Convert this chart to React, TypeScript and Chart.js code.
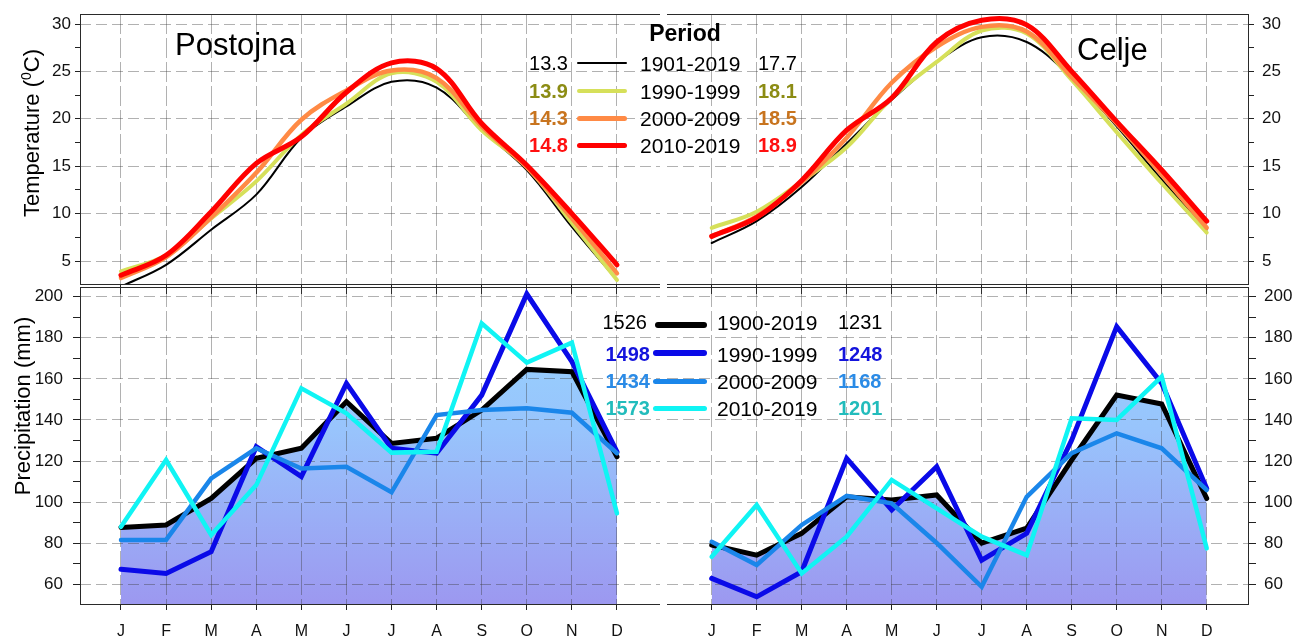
import React, { useEffect, useRef } from 'react';
import { Chart, registerables } from 'chart.js';

Chart.register(...registerables);

const FONT = '"Liberation Sans", Arial, Helvetica, sans-serif';
Chart.defaults.font.family = FONT;

// ---------------- data ----------------
const MONTHS = ['J', 'F', 'M', 'A', 'M', 'J', 'J', 'A', 'S', 'O', 'N', 'D'];

const TEMP_PERIODS = ['1901-2019', '1990-1999', '2000-2009', '2010-2019'];
const PRECIP_PERIODS = ['1900-2019', '1990-1999', '2000-2009', '2010-2019'];

const POSTOJNA_TEMP_1901_2019 = [2.3, 4.6, 8.3, 12.0, 18.0, 21.3, 23.9, 23.3, 18.8, 14.6, 8.6, 3.0];
const POSTOJNA_TEMP_1990_1999 = [3.9, 5.6, 9.5, 13.4, 18.3, 21.6, 24.8, 23.9, 18.8, 14.9, 9.0, 3.0];
const POSTOJNA_TEMP_2000_2009 = [3.2, 5.4, 9.6, 14.3, 19.9, 23.0, 25.1, 24.3, 19.2, 14.9, 9.5, 3.7];
const POSTOJNA_TEMP_2010_2019 = [3.5, 5.6, 10.2, 15.3, 18.1, 22.8, 25.9, 25.3, 19.5, 15.1, 10.0, 4.6];

const CELJE_TEMP_1901_2019 = [6.9, 9.2, 12.8, 17.4, 22.0, 26.0, 28.6, 28.1, 24.3, 19.2, 13.6, 8.3];
const CELJE_TEMP_1990_1999 = [8.5, 10.2, 13.4, 17.0, 22.2, 26.0, 29.3, 29.0, 24.1, 18.6, 13.2, 8.0];
const CELJE_TEMP_2000_2009 = [7.6, 9.7, 13.3, 18.0, 23.8, 27.6, 29.7, 29.2, 24.4, 19.5, 14.1, 8.5];
const CELJE_TEMP_2010_2019 = [7.6, 9.6, 13.5, 18.8, 22.2, 28.1, 30.4, 29.9, 25.0, 19.7, 14.6, 9.2];

const POSTOJNA_PREC_1900_2019 = [87.7, 88.9, 101.8, 121.3, 126.2, 148.9, 128.6, 131.1, 144.8, 164.6, 163.5, 122.1];
const POSTOJNA_PREC_1990_1999 = [67.3, 65.3, 75.9, 127.0, 112.4, 157.8, 126.2, 123.8, 152.1, 201.3, 168.4, 124.5];
const POSTOJNA_PREC_2000_2009 = [81.6, 81.6, 111.6, 126.2, 116.4, 117.2, 104.8, 142.4, 144.8, 145.7, 143.5, 123.8];
const POSTOJNA_PREC_2010_2019 = [88.0, 120.5, 84.0, 108.3, 155.4, 143.2, 124.1, 124.5, 187.0, 167.9, 177.6, 94.5];

const CELJE_PREC_1900_2019 = [79.1, 74.2, 84.8, 102.6, 101.0, 103.5, 80.0, 87.3, 120.5, 152.1, 147.8, 101.8];
const CELJE_PREC_1990_1999 = [62.9, 53.9, 66.1, 121.3, 96.2, 117.2, 71.7, 84.8, 130.2, 185.4, 157.8, 106.7];
const CELJE_PREC_2000_2009 = [80.7, 69.4, 88.9, 103.0, 99.4, 80.1, 58.8, 102.6, 123.8, 133.5, 126.2, 105.9];
const CELJE_PREC_2010_2019 = [73.4, 98.6, 65.3, 83.2, 110.8, 97.0, 83.2, 74.2, 140.8, 140.0, 161.1, 77.5];

const POSTOJNA_TEMP_MEAN = ['13.3', '13.9', '14.3', '14.8'];
const CELJE_TEMP_MEAN = ['17.7', '18.1', '18.5', '18.9'];
const POSTOJNA_PREC_SUM = ['1526', '1498', '1434', '1573'];
const CELJE_PREC_SUM = ['1231', '1248', '1168', '1201'];

const TEMP_MAJOR_TICKS = [5, 10, 15, 20, 25, 30];
const TEMP_MINOR_TICKS = [7.5, 12.5, 17.5, 22.5, 27.5];
const PREC_MAJOR_TICKS = [60, 80, 100, 120, 140, 160, 180, 200];
const PREC_MINOR_TICKS = [70, 90, 110, 130, 150, 170, 190];

// ---------------- styles ----------------
const TEMP_COLORS = ['#000000', '#d6e05a', '#ff8a45', '#ff0000'];
const TEMP_TEXT_COLORS = ['#000000', '#8c8c14', '#c8741e', '#ff1010'];
const TEMP_WIDTHS = [2, 4, 4.5, 5];
const PREC_COLORS = ['#000000', '#0a0ae8', '#1a86ea', '#10f4f4'];
const PREC_TEXT_COLORS = ['#000000', '#1414dc', '#2b8be6', '#22bcbc'];
const PREC_WIDTHS = [5, 5, 4.5, 4.5];

const GRID_COLOR = 'rgba(60,60,60,0.40)';
const TICK_COLOR = '#222222';
const FRAME_COLOR = '#2a2a2a';

type Panel = {
  side: 'left' | 'right';
  series: number[][];
  colors: string[];
  widths: number[];
  tension: number;
  fillFirst: boolean;
  xMin: number;
  xMax: number;
  yMin: number;
  yMax: number;
  majors: number[];
  minors: number[];
  showMonths: boolean;
  padTop: number;
  xAxisH: number;
  yAxisW: number;
  yTickLen: number;
  yTickPad: number;
  xTickLen: number;
  xTickPad: number;
};

const gradientFill = (c: any) => {
  const chart = c.chart;
  const area = chart.chartArea;
  if (!area) return 'rgb(150,190,250)';
  const g = chart.ctx.createLinearGradient(0, area.top, 0, area.bottom);
  g.addColorStop(0, 'rgb(150,214,255)');
  g.addColorStop(0.45, 'rgb(152,196,252)');
  g.addColorStop(1, 'rgb(156,152,240)');
  return g;
};

function buildChart(canvas: HTMLCanvasElement, p: Panel) {
  const framePlugin = {
    id: 'frame',
    afterDraw(chart: any) {
      const { ctx, chartArea } = chart;
      const { left, right, top, bottom } = chartArea;
      ctx.save();
      ctx.strokeStyle = FRAME_COLOR;
      ctx.lineWidth = 1;
      ctx.setLineDash([]);
      ctx.beginPath();
      ctx.moveTo(left, top + 0.5);
      ctx.lineTo(right, top + 0.5);
      ctx.moveTo(left, bottom + 0.5);
      ctx.lineTo(right, bottom + 0.5);
      const vx = p.side === 'left' ? left + 0.5 : right - 0.5;
      ctx.moveTo(vx, top);
      ctx.lineTo(vx, bottom + 1);
      ctx.stroke();
      ctx.restore();
    },
  };

  const datasets = p.series.map((vals, i) => ({
    data: vals.map((v, j) => ({ x: j + 1, y: v })),
    borderColor: p.colors[i],
    borderWidth: p.widths[i],
    pointRadius: 0,
    pointHoverRadius: 0,
    tension: p.tension,
    fill: p.fillFirst && i === 0 ? 'start' : false,
    backgroundColor: p.fillFirst && i === 0 ? gradientFill : 'rgba(0,0,0,0)',
    order: p.series.length - i,
    borderCapStyle: 'round',
    borderJoinStyle: p.tension > 0 ? 'round' : 'miter',
  }));

  const ticksAll = [...p.majors, ...p.minors].sort((a, b) => a - b);

  return new Chart(canvas, {
    type: 'line',
    data: { datasets: datasets as any },
    plugins: [framePlugin],
    options: {
      responsive: false,
      animation: false,
      events: [],
      layout: { padding: { top: p.padTop, left: 0, right: 0, bottom: 0 } },
      plugins: {
        legend: { display: false },
        tooltip: { enabled: false },
        filler: { drawTime: 'beforeDraw' },
      } as any,
      scales: {
        x: {
          type: 'linear',
          position: 'bottom',
          min: p.xMin,
          max: p.xMax,
          bounds: 'data',
          afterBuildTicks: (s: any) => {
            s.ticks = MONTHS.map((_, i) => ({ value: i + 1 }));
          },
          afterFit: (s: any) => {
            s.height = p.xAxisH;
            s.paddingLeft = 0;
            s.paddingRight = 0;
          },
          ticks: {
            display: p.showMonths,
            autoSkip: false,
            maxRotation: 0,
            minRotation: 0,
            padding: p.xTickPad,
            color: '#111111',
            font: { size: 16, family: FONT },
            callback: (_v: any, i: number) => MONTHS[i],
          },
          grid: {
            color: GRID_COLOR,
            tickColor: TICK_COLOR,
            tickLength: p.xTickLen,
            lineWidth: 1,
          },
          border: { display: false, dash: [20, 4] },
        } as any,
        y: {
          type: 'linear',
          position: p.side,
          min: p.yMin,
          max: p.yMax,
          bounds: 'data',
          afterBuildTicks: (s: any) => {
            s.ticks = ticksAll.map((value) => ({ value }));
          },
          afterFit: (s: any) => {
            s.width = p.yAxisW;
            s.paddingTop = 0;
            s.paddingBottom = 0;
          },
          ticks: {
            autoSkip: false,
            padding: p.yTickPad,
            color: '#111111',
            font: { size: 17, family: FONT },
            callback: (v: any) => (p.majors.includes(v) ? String(v) : ''),
          },
          grid: {
            color: (c: any) => (c.tick && p.majors.includes(c.tick.value) ? GRID_COLOR : 'rgba(0,0,0,0)'),
            tickColor: TICK_COLOR,
            tickLength: p.yTickLen,
            lineWidth: 1,
          },
          border: { display: false, dash: [11, 5] },
        } as any,
      },
    },
  });
}

function Txt(props: {
  x: number;
  cy: number;
  size: number;
  align?: 'left' | 'right' | 'center';
  bold?: boolean;
  color?: string;
  children: React.ReactNode;
}) {
  const { x, cy, size, align = 'left', bold = false, color = '#000', children } = props;
  const style: React.CSSProperties = {
    position: 'absolute',
    top: cy - 0.4885 * size,
    fontSize: size,
    lineHeight: `${size}px`,
    fontWeight: bold ? 'bold' : 'normal',
    color,
    whiteSpace: 'nowrap',
    fontFamily: FONT,
  };
  if (align === 'left') style.left = x;
  else if (align === 'right') style.right = 1302 - x;
  else {
    style.left = x;
    style.transform = 'translateX(-50%)';
  }
  return <div style={style}>{children}</div>;
}

function Swatch(props: { x1: number; x2: number; cy: number; h: number; color: string }) {
  const { x1, x2, cy, h, color } = props;
  return (
    <div
      style={{
        position: 'absolute',
        left: x1,
        width: x2 - x1,
        top: cy - h / 2,
        height: h,
        background: color,
        borderRadius: h / 2,
      }}
    />
  );
}

// layout constants (page pixels)
const TEMP_ROW_Y = [63, 91, 118, 145];
const PREC_ROW_Y = [322, 354, 381, 408];
const PREC_SWATCH_Y = [325, 353, 381, 408];
const PREC_SWATCH_H = [6, 6, 5, 5];
const TEMP_SWATCH_H = [2, 4, 5, 5];

export default function App() {
  const tl = useRef<HTMLCanvasElement>(null);
  const tr = useRef<HTMLCanvasElement>(null);
  const bl = useRef<HTMLCanvasElement>(null);
  const br = useRef<HTMLCanvasElement>(null);

  useEffect(() => {
    const charts: Chart[] = [];
    const tempBase = {
      colors: TEMP_COLORS,
      widths: TEMP_WIDTHS,
      tension: 0.35,
      fillFirst: false,
      yMin: 2.574,
      yMax: 31.055,
      majors: TEMP_MAJOR_TICKS,
      minors: TEMP_MINOR_TICKS,
      showMonths: false,
      padTop: 14,
      xAxisH: 16,
      xTickLen: 10,
      xTickPad: 2,
    };
    const precBase = {
      colors: PREC_COLORS,
      widths: PREC_WIDTHS,
      tension: 0,
      fillFirst: true,
      yMin: 50.41,
      yMax: 204.72,
      majors: PREC_MAJOR_TICKS,
      minors: PREC_MINOR_TICKS,
      showMonths: true,
      padTop: 7,
      xAxisH: 34,
      xTickLen: 6,
      xTickPad: 12,
    };
    charts.push(
      buildChart(tl.current!, {
        ...tempBase,
        side: 'left',
        series: [POSTOJNA_TEMP_1901_2019, POSTOJNA_TEMP_1990_1999, POSTOJNA_TEMP_2000_2009, POSTOJNA_TEMP_2010_2019],
        xMin: 0.091,
        xMax: 12.954,
        yAxisW: 80,
        yTickLen: 5,
        yTickPad: 4,
      })
    );
    charts.push(
      buildChart(tr.current!, {
        ...tempBase,
        side: 'right',
        series: [CELJE_TEMP_1901_2019, CELJE_TEMP_1990_1999, CELJE_TEMP_2000_2009, CELJE_TEMP_2010_2019],
        xMin: 0.007,
        xMax: 12.94,
        yAxisW: 53,
        yTickLen: 5,
        yTickPad: 8,
      })
    );
    charts.push(
      buildChart(bl.current!, {
        ...precBase,
        side: 'left',
        series: [POSTOJNA_PREC_1900_2019, POSTOJNA_PREC_1990_1999, POSTOJNA_PREC_2000_2009, POSTOJNA_PREC_2010_2019],
        xMin: 0.091,
        xMax: 12.954,
        yAxisW: 80,
        yTickLen: 7,
        yTickPad: 10,
      })
    );
    charts.push(
      buildChart(br.current!, {
        ...precBase,
        side: 'right',
        series: [CELJE_PREC_1900_2019, CELJE_PREC_1990_1999, CELJE_PREC_2000_2009, CELJE_PREC_2010_2019],
        xMin: 0.007,
        xMax: 12.94,
        yAxisW: 53,
        yTickLen: 7,
        yTickPad: 8,
      })
    );
    return () => charts.forEach((c) => c.destroy());
  }, []);

  const cv = (left: number, top: number, w: number, h: number): React.CSSProperties => ({
    position: 'absolute',
    left,
    top,
    width: w,
    height: h,
    display: 'block',
  });

  return (
    <div
      style={{
        position: 'absolute',
        left: 0,
        top: 0,
        width: 1302,
        height: 638,
        background: '#ffffff',
        overflow: 'hidden',
        fontFamily: FONT,
      }}
    >
      <canvas ref={tl} width={660} height={300} style={cv(0, 0, 660, 300)} />
      <canvas ref={tr} width={635} height={300} style={cv(667, 0, 635, 300)} />
      <canvas ref={bl} width={660} height={358} style={cv(0, 280, 660, 358)} />
      <canvas ref={br} width={635} height={358} style={cv(667, 280, 635, 358)} />

      {/* axis titles */}
      <div
        style={{
          position: 'absolute',
          left: 33,
          top: 133,
          transform: 'translate(-50%, -50%) rotate(-90deg)',
          fontSize: 22,
          lineHeight: '22px',
          whiteSpace: 'nowrap',
          color: '#000',
        }}
      >
        Temperature (
        <span style={{ fontSize: 14, position: 'relative', top: -8 }}>0</span>C)
      </div>
      <div
        style={{
          position: 'absolute',
          left: 23,
          top: 406,
          transform: 'translate(-50%, -50%) rotate(-90deg)',
          fontSize: 22,
          lineHeight: '22px',
          whiteSpace: 'nowrap',
          color: '#000',
        }}
      >
        Precipitation (mm)
      </div>

      {/* station names */}
      <Txt x={175} cy={44} size={31}>Postojna</Txt>
      <Txt x={1077} cy={49} size={31}>Celje</Txt>

      {/* temperature legend */}
      <Txt x={685} cy={33} size={23} bold align="center">Period</Txt>
      {TEMP_PERIODS.map((label, i) => (
        <React.Fragment key={'t' + i}>
          <Txt x={568} cy={TEMP_ROW_Y[i]} size={20} align="right" bold={i > 0} color={TEMP_TEXT_COLORS[i]}>
            {POSTOJNA_TEMP_MEAN[i]}
          </Txt>
          <Swatch x1={577} x2={627} cy={TEMP_ROW_Y[i]} h={TEMP_SWATCH_H[i]} color={TEMP_COLORS[i]} />
          <Txt x={640} cy={TEMP_ROW_Y[i]} size={21}>
            {label}
          </Txt>
          <Txt x={758} cy={TEMP_ROW_Y[i]} size={20} bold={i > 0} color={TEMP_TEXT_COLORS[i]}>
            {CELJE_TEMP_MEAN[i]}
          </Txt>
        </React.Fragment>
      ))}

      {/* precipitation legend */}
      {PRECIP_PERIODS.map((label, i) => (
        <React.Fragment key={'p' + i}>
          <Txt x={i === 0 ? 647 : 650} cy={PREC_ROW_Y[i]} size={20} align="right" bold={i > 0} color={PREC_TEXT_COLORS[i]}>
            {POSTOJNA_PREC_SUM[i]}
          </Txt>
          <Swatch x1={i === 0 ? 655 : 653} x2={707} cy={PREC_SWATCH_Y[i]} h={PREC_SWATCH_H[i]} color={PREC_COLORS[i]} />
          <Txt x={717} cy={PREC_ROW_Y[i]} size={21}>
            {label}
          </Txt>
          <Txt x={838} cy={PREC_ROW_Y[i]} size={20} bold={i > 0} color={PREC_TEXT_COLORS[i]}>
            {CELJE_PREC_SUM[i]}
          </Txt>
        </React.Fragment>
      ))}
    </div>
  );
}
